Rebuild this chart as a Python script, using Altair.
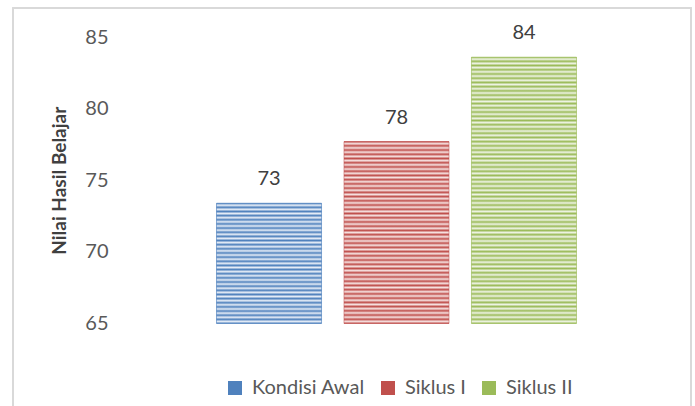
import altair as alt
import pandas as pd

categories = ["Kondisi Awal", "Siklus I", "Siklus II"]
values = [73.4, 77.7, 83.6]
colors = ["#4F81BD", "#C0504D", "#9BBB59"]
light_colors = ["#E6EDF7", "#F6E2E1", "#EFF4E5"]

y_min, y_max = 65, 85
plot_w, plot_h = 553, 286.5
stripe_period = 4.2

df = pd.DataFrame({"kategori": categories, "nilai": values})

x_enc = alt.X("kategori:N", sort=categories, axis=None,
              scale=alt.Scale(paddingInner=0.176, paddingOuter=0.757))
y_enc = alt.Y("nilai:Q",
              scale=alt.Scale(domain=[y_min, y_max], nice=False, zero=False),
              axis=alt.Axis(values=[65, 70, 75, 80, 85], grid=False, domain=False,
                            ticks=False, labelPadding=12, labelFontSize=20,
                            labelColor="#595959", labelFont="Lato",
                            title="Nilai Hasil Belajar", titleFontSize=19,
                            titleFont="Lato", titleFontWeight="bold",
                            titleColor="#404040", titlePadding=15))

base = alt.Chart(df).mark_bar(clip=False).encode(
    x=x_enc,
    y=y_enc,
    y2=alt.datum(y_min),
    color=alt.Color("kategori:N", sort=categories,
                    scale=alt.Scale(domain=categories, range=colors),
                    legend=alt.Legend(orient="none", direction="horizontal",
                                      legendX=105, legendY=341, title=None,
                                      symbolType="square", symbolSize=196,
                                      symbolStrokeWidth=0, symbolOpacity=1,
                                      labelFontSize=20, labelFont="Lato",
                                      labelColor="#595959", labelOffset=7,
                                      columnPadding=13, padding=0)),
)

layers = [base]
for cat, v, c, lc in zip(categories, values, colors, light_colors):
    h_px = (v - y_min) / (y_max - y_min) * plot_h
    n = max(1, round(h_px / stripe_period))
    stops = []
    for k in range(n):
        stops.append({"offset": k / n, "color": c})
        stops.append({"offset": (k + 0.5) / n, "color": lc})
    stops.append({"offset": 1, "color": c})
    grad = alt.LinearGradient(gradient="linear", x1=0, y1=0, x2=0, y2=1, stops=stops)
    layers.append(
        alt.Chart(df).transform_filter(alt.datum.kategori == cat)
        .mark_bar(fill=grad, stroke=c, strokeWidth=0.8, strokeOpacity=0.6)
        .encode(x=x_enc, y=y_enc, y2=alt.datum(y_min))
    )

labels = alt.Chart(df).mark_text(dy=-18, baseline="alphabetic", fontSize=20,
                                 font="Lato", color="#404040").encode(
    x=x_enc, y=y_enc, text=alt.Text("nilai:Q", format=".0f"))
layers.append(labels)

frame = alt.Chart(df).mark_rect(fill=None, stroke="#D9D9D9", strokeWidth=1.5,
                                clip=False).encode(
    x=alt.value(-107), x2=alt.value(571), y=alt.value(-29), y2=alt.value(380))

chart = alt.layer(frame, *layers).properties(
    width=plot_w, height=plot_h,
    padding={"left": 120, "top": 37, "right": 22, "bottom": 82.5},
    autosize=alt.AutoSizeParams(type="none"),
    background="white",
).configure_view(stroke=None)

chart.save("out.html", embed_options={"renderer": "svg", "actions": False})
